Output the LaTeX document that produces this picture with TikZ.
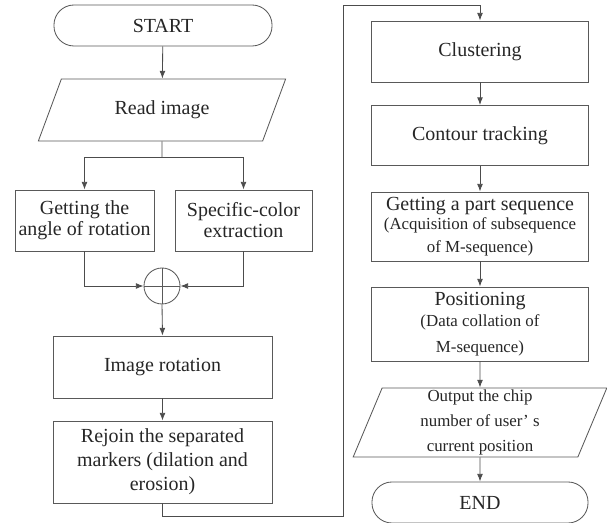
\documentclass[tikz,border=0pt]{standalone}
\usepackage{fontspec}
\setmainfont{Liberation Serif}
\usetikzlibrary{shapes.geometric, arrows.meta}
\newcommand{\subtxt}{\fontsize{12}{14.5}\selectfont}

\begin{document}
\begin{tikzpicture}[x=0.025cm, y=-0.025cm, >={Latex[length=5.5pt,width=4.2pt]},
  line width=0.6pt, draw=black!70,
  box/.style={draw=black!65, line width=0.6pt, text=black!85, align=center, inner sep=1pt,
    font=\fontsize{14.2}{17}\selectfont},
  proc/.style={box, rectangle},
  term/.style={box, rectangle, rounded corners=0.5cm, minimum height=1.025cm},
  io/.style={box, trapezium, trapezium stretches=true},
  sum/.style={box, circle, minimum size=0.9cm, inner sep=0pt,
    path picture={\draw[black!65] (path picture bounding box.north) -- (path picture bounding box.south)
      (path picture bounding box.west) -- (path picture bounding box.east);}}]
\useasboundingbox (0,0) rectangle (607,523);

% left column
\node[term, minimum width=5.45cm] (start) at (163,25.5) {START};
\node[io, trapezium left angle=62, trapezium right angle=118, minimum width=6.2cm, minimum height=1.55cm] (read) at (162,110) {Read image};
\node[proc, minimum width=3.475cm, minimum height=1.525cm] (angle) at (84.5,220.5) {Getting the\\[-2pt] angle of rotation};
\node[proc, minimum width=3.425cm, minimum height=1.525cm] (color) at (243.5,220.5) {Specific-color\\[-2pt] extraction};
\node[sum] (join) at (162,286) {};
\node[proc, minimum width=5.475cm, minimum height=1.55cm] (rotate) at (162.5,367) {Image rotation};
\node[proc, minimum width=5.475cm, minimum height=2.05cm] (rejoin) at (162.5,462) {Rejoin the separated\\ markers (dilation and\\ erosion)};

% right column
\node[proc, minimum width=5.425cm, minimum height=1.525cm] (cluster) at (480,51.5) {Clustering};
\node[proc, minimum width=5.425cm, minimum height=1.5cm] (contour) at (480,135.5) {Contour tracking};
\node[proc, minimum width=5.425cm, minimum height=1.725cm] (part) at (480,226.5) {Getting a part sequence\\[-3pt] {\subtxt (Acquisition of subsequence}\\[-1pt] {\subtxt of M-sequence)}};
\node[proc, minimum width=5.425cm, minimum height=1.85cm] (locate) at (480,324) {Positioning\\[-2pt] {\subtxt (Data collation of}\\[1pt] {\subtxt M-sequence)}};
\node[io, font=\subtxt, trapezium left angle=75, trapezium right angle=105, minimum width=6.35cm, minimum height=1.725cm] (output) at (480,422.5) {Output the chip\\[3pt] number of user’ s\\[3pt] current position};
\node[term, minimum width=5.4cm] (finish) at (480,502.5) {END};

\coordinate (fork) at (162,157);
\coordinate (loopa) at (343,516);
\coordinate (loopb) at (343,5);

\draw[->] (start) -- (read);
\draw (read.south) -- (fork);
\draw[->] (fork) -| (angle.north);
\draw[->] (fork) -| (color.north);
\draw[->] (angle.south) |- (join.west);
\draw[->] (color.south) |- (join.east);
\draw[->] (join.south) -- (rotate.north);
\draw[->] (rotate) -- (rejoin);
\draw[->] (rejoin.south) |- (loopa) -- (loopb) -| (cluster.north);

\draw[->] (cluster) -- (contour);
\draw[->] (contour) -- (part);
\draw[->] (part) -- (locate);
\draw[->] (locate.south) -- (output.north);
\draw[->] (output.south) -- (finish.north);
\end{tikzpicture}
\end{document}
